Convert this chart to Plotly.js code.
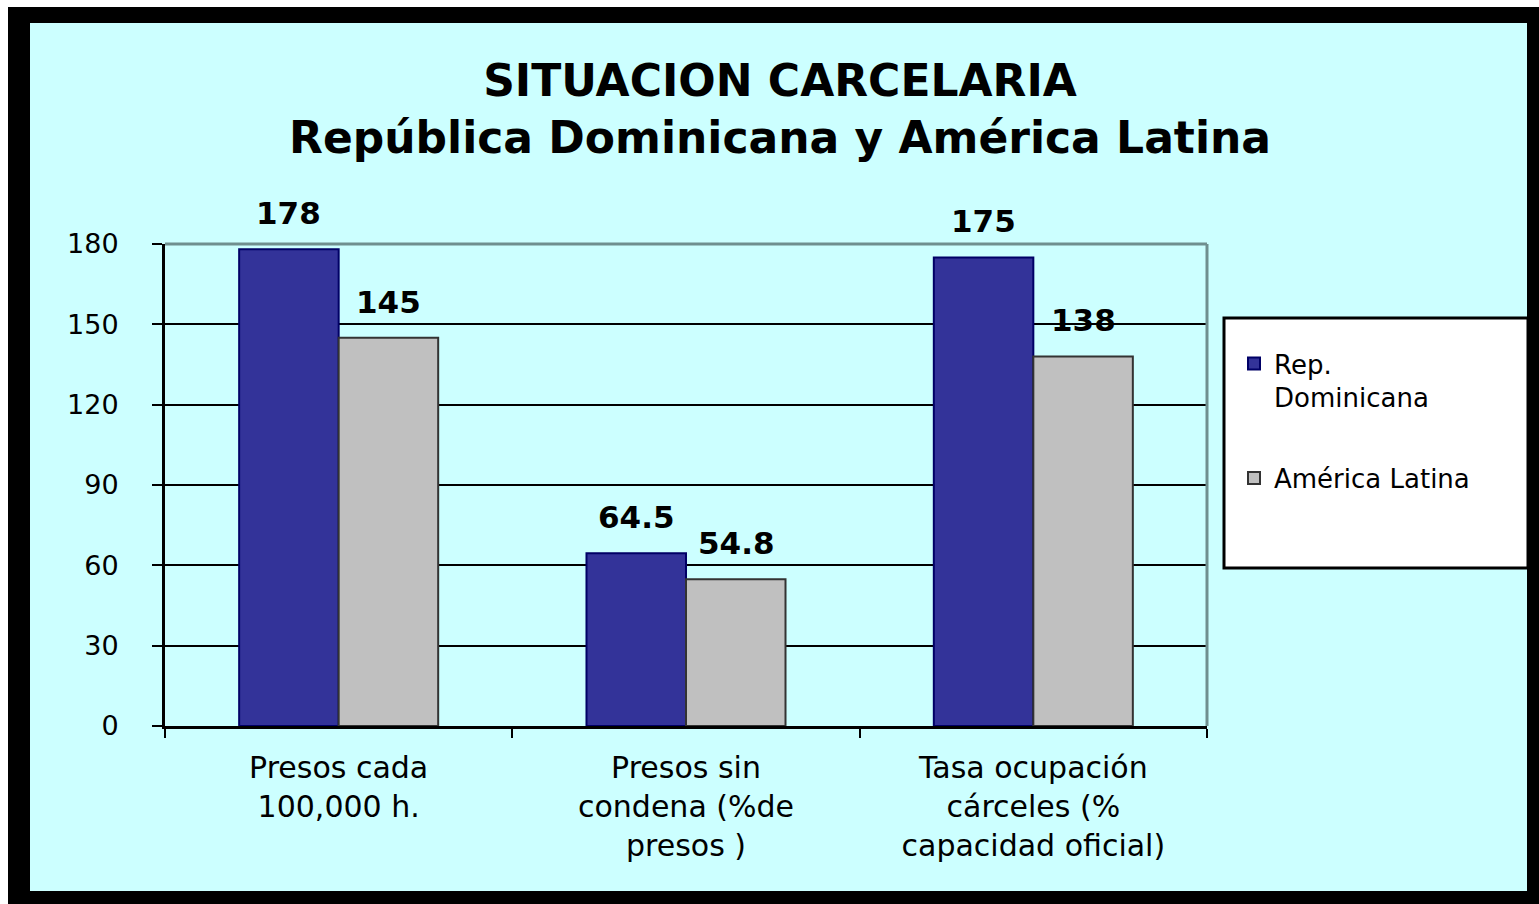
<!DOCTYPE html>
<html>
<head>
<meta charset="utf-8">
<script src="https://cdn.plot.ly/plotly-3.0.1.min.js"></script>
<style>html,body{margin:0;padding:0;background:#fff;}#chart{width:1539px;height:904px;}</style>
</head>
<body>
<div id="chart"></div>
<script>
// ---- data ----
const categories = [
  "Presos cada<br>100,000 h.",
  "Presos sin<br>condena (%de<br>presos )",
  "Tasa ocupación<br>cárceles (%<br>capacidad oficial)"
];
const seriesNames = ["Rep.<br>Dominicana", "América Latina"];
const repDominicana = [178, 64.5, 175];
const americaLatina = [145, 54.8, 138];
const yTickValues = [0, 30, 60, 90, 120, 150, 180];
const titleLines = ["SITUACION CARCELARIA", "República Dominicana y América Latina"];

// ---- layout geometry (pixels) ----
const W = 1539, H = 904;
const L = 165, R = 1207, T = 244, B = 726;
const px = v => (v - L) / (R - L);
const py = v => (B - v) / (B - T);

const blue = "#333399", gray = "#C0C0C0";
const font = "DejaVu Sans";

const traces = [
  {type: "bar", x: categories, y: repDominicana, name: seriesNames[0], legendgroup: "a",
   marker: {color: blue, line: {color: "#000066", width: 2}}, hoverinfo: "y"},
  {type: "bar", x: categories, y: americaLatina, name: seriesNames[1], legendgroup: "b",
   marker: {color: gray, line: {color: "#333333", width: 2}}, hoverinfo: "y"}
];

const annotations = [];
[repDominicana, americaLatina].forEach((vals, s) => {
  vals.forEach((v, i) => {
    annotations.push({
      x: categories[i], y: v, xref: "x", yref: "y",
      text: String(v), showarrow: false,
      xshift: s === 0 ? -50 : 50, yshift: 36, yanchor: "middle",
      font: {family: font, size: 31, color: "#000", weight: "bold"}
    });
  });
});

const shapes = [
  {type: "rect", xref: "paper", yref: "paper", layer: "below",
   x0: px(8), x1: px(W + 5), y0: py(7), y1: py(H + 5), fillcolor: "#000", line: {width: 0}},
  {type: "rect", xref: "paper", yref: "paper", layer: "below",
   x0: px(30), x1: px(1527), y0: py(23), y1: py(891), fillcolor: "#CCFFFF", line: {width: 0}},
  {type: "rect", xref: "paper", yref: "paper", layer: "below",
   x0: px(1224), x1: px(1528), y0: py(318), y1: py(568), fillcolor: "#FFFFFF", line: {color: "#000", width: 3}},
  {type: "line", xref: "paper", yref: "paper", layer: "above",
   x0: 0, x1: 1, y0: 1, y1: 1, line: {color: "#6F8F8F", width: 3}},
  {type: "line", xref: "paper", yref: "paper", layer: "above",
   x0: 1, x1: 1, y0: 0, y1: 1, line: {color: "#6F8F8F", width: 3}}
];

const layout = {
  width: W, height: H,
  margin: {l: L, r: W - R, t: T, b: H - B, pad: 0},
  paper_bgcolor: "#FFFFFF",
  plot_bgcolor: "#CCFFFF",
  font: {family: font, color: "#000"},
  title: {
    text: titleLines.join("<br>"),
    font: {family: font, size: 44, color: "#000", weight: "bold"},
    xref: "container", yref: "container", x: 780 / W, y: 1 - 96 / H,
    xanchor: "center", yanchor: "middle"
  },
  barmode: "group", bargap: 0.427, bargroupgap: 0,
  xaxis: {
    type: "category", showline: true, linecolor: "#000", linewidth: 3,
    ticks: "outside", tickson: "boundaries", ticklen: 9, tickwidth: 2, tickcolor: "#000",
    tickfont: {family: font, size: 30, color: "#000"}, ticklabelstandoff: 13,
    showgrid: false, fixedrange: true
  },
  yaxis: {
    range: [0, 180], tickvals: yTickValues, showline: true, linecolor: "#000", linewidth: 3,
    ticks: "outside", ticklen: 10, tickwidth: 2, tickcolor: "#000",
    tickfont: {family: font, size: 27, color: "#000"}, ticklabelstandoff: 28,
    showgrid: true, gridcolor: "#000", gridwidth: 2, zeroline: false, fixedrange: true
  },
  legend: {
    x: px(1234), y: py(340), xanchor: "left", yanchor: "top",
    bgcolor: "rgba(0,0,0,0)", borderwidth: 0, valign: "top",
    font: {family: font, size: 26, color: "#000"},
    tracegroupgap: 44, traceorder: "grouped"
  },
  showlegend: true,
  shapes: shapes,
  annotations: annotations
};

Plotly.newPlot("chart", traces, layout, {displayModeBar: false, staticPlot: true});
</script>
</body>
</html>
